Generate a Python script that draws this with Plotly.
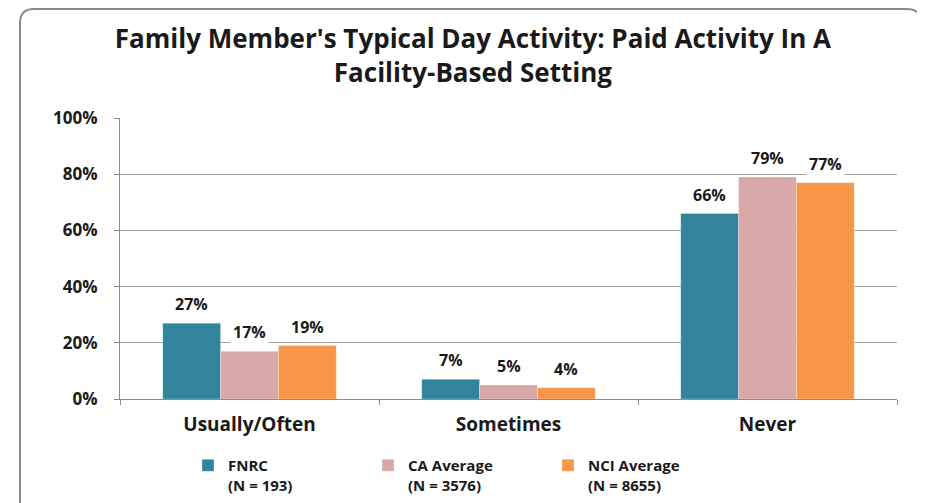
import plotly.graph_objects as go

categories = ["Usually/Often", "Sometimes", "Never"]
series_names = ["FNRC<br>(N = 193)", "CA Average<br>(N = 3576)", "NCI Average<br>(N = 8655)"]
fnrc = [27, 7, 66]
ca_avg = [17, 5, 79]
nci_avg = [19, 4, 77]
y_ticks = [0, 20, 40, 60, 80, 100]

TEAL = "#31849B"
PINK = "#D9A9A9"
ORANGE = "#F79646"
FONT = "Open Sans"

# page has an 8px body margin, so the figure is drawn 8px smaller
W, H = 917, 495
M_L, M_R, M_T, M_B = 112, 28, 110, 104
BARGAP = 0.33

fig = go.Figure()
all_vals = [fnrc, ca_avg, nci_avg]
colors = [TEAL, PINK, ORANGE]
for name, vals, col in zip(series_names, all_vals, colors):
    fig.add_trace(go.Bar(
        x=categories, y=vals, name=name,
        marker=dict(color=col, line=dict(color="rgba(255,255,255,0.6)", width=0.5)),
    ))

# value labels with white background (Excel style), placed over each bar
n = len(all_vals)
bw = (1 - BARGAP) / n
for si, vals in enumerate(all_vals):
    for ci, v in enumerate(vals):
        fig.add_annotation(
            x=ci + (si - (n - 1) / 2) * bw, y=v, xref="x", yref="y",
            text=f"<b>{v}%</b>", showarrow=False, yanchor="bottom", yshift=5,
            bgcolor="white", borderpad=2,
            font=dict(family=FONT, size=16, color="#1a1a1a"),
        )

# rounded outer border
pw, ph = W - M_L - M_R, H - M_T - M_B
def px(x): return (x - M_L) / pw
def py(y): return (H - M_B - y) / ph
x0, x1, y0, y1, r = 12, 913, 1, 520, 14
path = (f"M {px(x0 + r)},{py(y0)} L {px(x1 - r)},{py(y0)} "
        f"Q {px(x1)},{py(y0)} {px(x1)},{py(y0 + r)} L {px(x1)},{py(y1)} "
        f"L {px(x0)},{py(y1)} L {px(x0)},{py(y0 + r)} "
        f"Q {px(x0)},{py(y0)} {px(x0 + r)},{py(y0)}")
fig.add_shape(type="path", path=path, xref="paper", yref="paper",
              line=dict(color="#8C8C8C", width=2), layer="below")

fig.update_layout(
    width=W, height=H,
    margin=dict(l=M_L, r=M_R, t=M_T, b=M_B, autoexpand=False),
    paper_bgcolor="white", plot_bgcolor="white",
    barmode="group", bargap=BARGAP, bargroupgap=0,
    title=dict(
        text="<b>Family Member's Typical Day Activity: Paid Activity In A<br>Facility-Based Setting</b>",
        x=0.507, xanchor="center", y=0.919, yanchor="top",
        font=dict(family=FONT, size=26, color="#1a1a1a"),
    ),
    font=dict(family=FONT, color="#1a1a1a"),
    legend=dict(
        orientation="h", x=0.0875, xanchor="left", y=-0.178, yanchor="top",
        entrywidth=135, valign="top", itemwidth=30,
        font=dict(family=FONT, size=15, color="#1a1a1a", weight="bold"),
    ),
    showlegend=True,
)
fig.update_yaxes(
    range=[0, 100], tickvals=y_ticks, ticktext=[f"<b>{t}%</b>" for t in y_ticks],
    showgrid=True, gridcolor="#A6A6A6", gridwidth=1,
    showline=True, linecolor="#8C8C8C", linewidth=1,
    ticks="outside", ticklen=5, tickcolor="#8C8C8C", ticklabelstandoff=13,
    tickfont=dict(family=FONT, size=17, color="#1a1a1a"), zeroline=False,
)
fig.update_xaxes(
    tickvals=categories, ticktext=[f"<b>{c}</b>" for c in categories],
    showline=True, linecolor="#8C8C8C", linewidth=1,
    ticks="outside", ticklen=5, tickcolor="#8C8C8C", tickson="boundaries",
    ticklabelstandoff=8,
    tickfont=dict(family=FONT, size=19, color="#1a1a1a"),
)

fig.write_html("out.html")
